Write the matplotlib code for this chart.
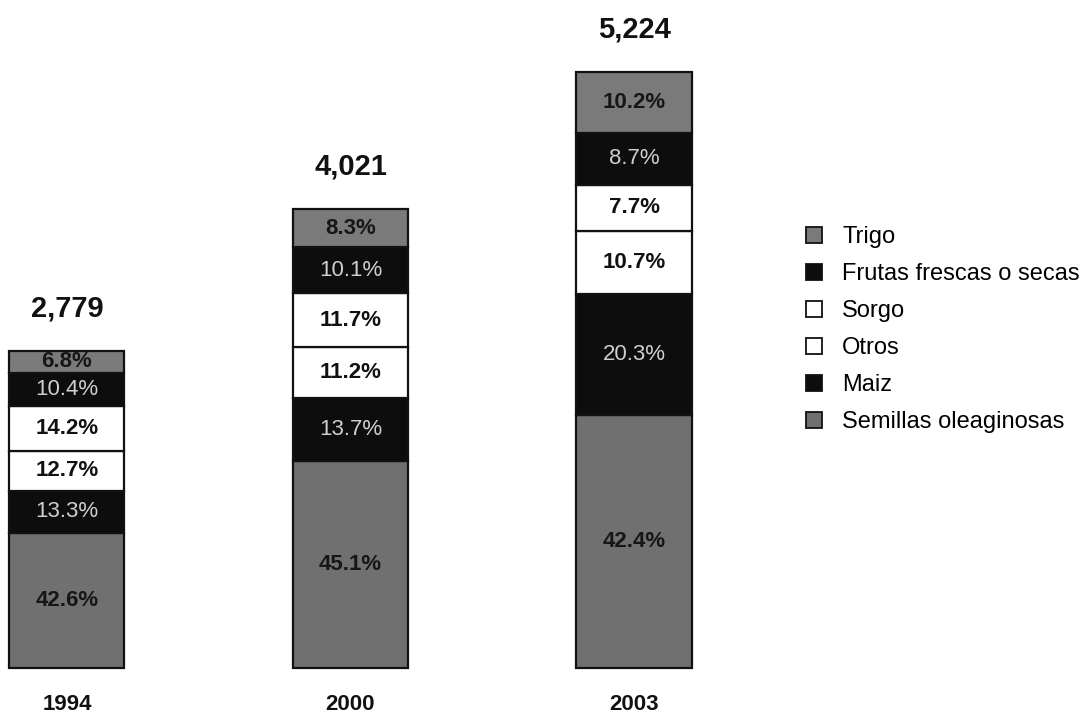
import matplotlib
matplotlib.use('Agg')
import matplotlib.pyplot as plt
from matplotlib.lines import Line2D

plt.rcParams['font.family'] = ['Liberation Sans', 'DejaVu Sans']

years = ['1994', '2000', '2003']
totals = [2779, 4021, 5224]
total_labels = ['2,779', '4,021', '5,224']

# orden de apilado: de abajo hacia arriba
cultivos = ['Semillas oleaginosas', 'Maiz', 'Otros', 'Sorgo', 'Frutas frescas o secas', 'Trigo']
pct = {
    'Semillas oleaginosas': [42.6, 45.1, 42.4],
    'Maiz': [13.3, 13.7, 20.3],
    'Otros': [12.7, 11.2, 10.7],
    'Sorgo': [14.2, 11.7, 7.7],
    'Frutas frescas o secas': [10.4, 10.1, 8.7],
    'Trigo': [6.8, 8.3, 10.2],
}

colores = {
    'Semillas oleaginosas': '#707070',
    'Maiz': '#0d0d0d',
    'Otros': '#ffffff',
    'Sorgo': '#ffffff',
    'Frutas frescas o secas': '#0d0d0d',
    'Trigo': '#7a7a7a',
}
texto = {
    'Semillas oleaginosas': ('#161616', 'bold'),
    'Maiz': ('#cfcfcf', 'normal'),
    'Otros': ('#111111', 'bold'),
    'Sorgo': ('#111111', 'bold'),
    'Frutas frescas o secas': ('#cfcfcf', 'normal'),
    'Trigo': ('#161616', 'bold'),
}

fig = plt.figure(figsize=(10.88, 7.13), dpi=100)
ax = fig.add_axes([0, 0, 1, 1])
x = [0, 1, 2]
w = 0.406

bottoms = [0, 0, 0]
for c in cultivos:
    alturas = [t * p / 100 for t, p in zip(totals, pct[c])]
    ax.bar(x, alturas, w, bottom=bottoms, color=colores[c], edgecolor='#111111', linewidth=1.6)
    for i in range(3):
        col, fw = texto[c]
        ax.text(x[i], bottoms[i] + alturas[i] / 2, f'{pct[c][i]}%', ha='center', va='center',
                fontsize=16, color=col, fontweight=fw)
    bottoms = [b + a for b, a in zip(bottoms, alturas)]

for i in range(3):
    ax.text(x[i], totals[i] + 250, total_labels[i], ha='center', va='bottom',
            fontsize=21, fontweight='bold', color='#111111')
    ax.text(x[i], -320, years[i], ha='center', va='center', fontsize=16,
            fontweight='bold', color='#111111')

handles = [Line2D([], [], marker='s', linestyle='none', markersize=11,
                  markerfacecolor=colores[c], markeredgecolor='#111111', markeredgewidth=1.3)
           for c in cultivos[::-1]]
fig.legend(handles, cultivos[::-1], loc='upper left', bbox_to_anchor=(0.724, 0.699),
           frameon=False, fontsize=17, labelspacing=0.63, handletextpad=0.6,
           handlelength=1.2, borderpad=0)

ax.set_xlim(-0.236, 3.601)
ax.set_ylim(-395, 5858)
ax.axis('off')

fig.savefig('out.png', dpi=100)
